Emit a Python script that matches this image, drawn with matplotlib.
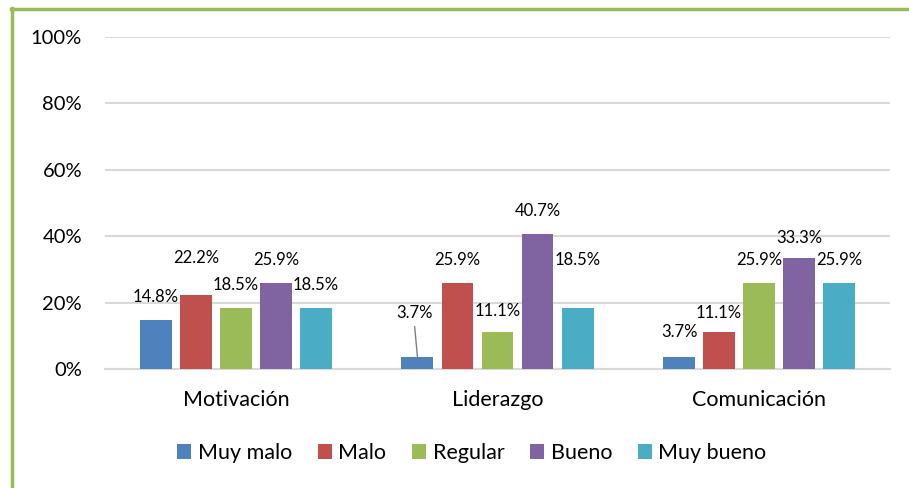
import matplotlib
matplotlib.use("Agg")
import matplotlib.pyplot as plt
from matplotlib.lines import Line2D
from matplotlib.ticker import FuncFormatter
import numpy as np

plt.rcParams['font.family'] = ['Lato', 'DejaVu Sans']

categories = ["Motivación", "Liderazgo", "Comunicación"]
series_names = ["Muy malo", "Malo", "Regular", "Bueno", "Muy bueno"]
muy_malo = [14.8, 3.7, 3.7]
malo = [22.2, 25.9, 11.1]
regular = [18.5, 11.1, 25.9]
bueno = [25.9, 40.7, 33.3]
muy_bueno = [18.5, 18.5, 25.9]
series = [muy_malo, malo, regular, bueno, muy_bueno]
colors = ["#4F81BD", "#C0504D", "#9BBB59", "#8064A2", "#4BACC6"]

W, H = 909, 488
fig = plt.figure(figsize=(W / 100, H / 100), dpi=100)
ax = fig.add_axes([105 / W, (H - 369) / H, (890 - 105) / W, (369 - 37) / H])

x = np.arange(len(categories))
pitch = 0.153
width = 0.122
# label offsets (points) above bar tops, keyed by (series, category)
default_off = 16.5
special_off = {(1, 0): 26.6, (0, 1): 31.7, (4, 1): 34.5, (2, 1): 15,
               (1, 2): 13.7, (3, 2): 14.4, (0, 2): 18}
leader = (0, 1)

for i, (vals, col, name) in enumerate(zip(series, colors, series_names)):
    xs = x + (i - 2) * pitch
    ax.bar(xs, [v / 100 for v in vals], width=width, color=col, label=name, zorder=3)
    for j, (xx, v) in enumerate(zip(xs, vals)):
        off = special_off.get((i, j), default_off)
        dx = -2 if (i, j) == leader else 0
        ax.annotate(f"{v:.1f}%", (xx, v / 100), xytext=(dx, off), textcoords="offset points",
                    ha="center", va="center", fontsize=12, color="#000000", zorder=4)
        if (i, j) == leader:
            ax.annotate("", (xx, v / 100), xytext=(-2, off - 10), textcoords="offset points",
                        arrowprops=dict(arrowstyle="-", color="#808080", lw=1,
                                        shrinkA=0, shrinkB=0), zorder=4)

ax.set_ylim(0, 1)
ax.set_xlim(-0.5, 2.5)
ax.set_yticks(np.arange(0, 1.01, 0.2))
ax.yaxis.set_major_formatter(FuncFormatter(lambda v, p: f"{v*100:.0f}%"))
ax.grid(axis="y", color="#D9D9D9", lw=1.5, zorder=0)
ax.set_xticks(x)
ax.set_xticklabels(categories, fontsize=15.5)
ax.tick_params(axis="both", length=0)
ax.tick_params(axis="y", pad=16.5, labelsize=14.5)
ax.tick_params(axis="x", pad=15)
for s in ["top", "right", "left"]:
    ax.spines[s].set_visible(False)
ax.spines["bottom"].set_color("#D9D9D9")
ax.spines["bottom"].set_linewidth(1.5)

ax.legend(loc="center", bbox_to_anchor=(472 / W, (H - 453) / H), bbox_transform=fig.transFigure,
          ncol=5, frameon=False, fontsize=15.5, handlelength=0.65, handleheight=0.65,
          columnspacing=1.2, handletextpad=0.3)

# green border (left and top)
fig.add_artist(Line2D([12 / W, 12 / W], [0, 1 - 8 / H], transform=fig.transFigure, color="#9BBB59", lw=2.5))
fig.add_artist(Line2D([10.5 / W, 1], [1 - 8.5 / H, 1 - 8.5 / H], transform=fig.transFigure, color="#9BBB59", lw=2.5))

fig.savefig("out.png", dpi=100)
